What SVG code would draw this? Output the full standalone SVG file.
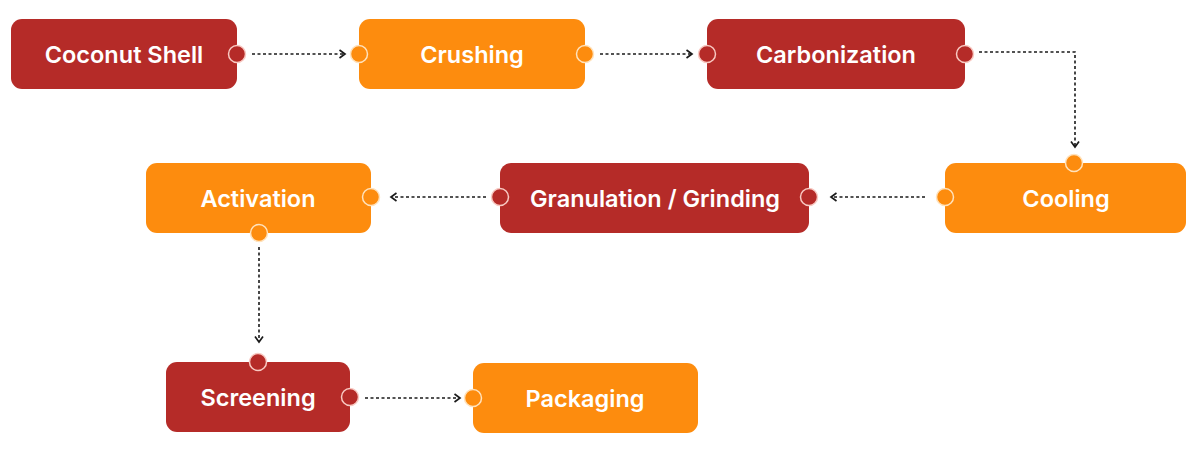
<svg xmlns="http://www.w3.org/2000/svg" width="1200" height="455" viewBox="0 0 1200 455">
<defs>
<style>
.red{fill:#B52B28}
.org{fill:#FD8C0E}
.pr{fill:#B52B28;stroke:#F8C9C2;stroke-width:1.5}
.po{fill:#FD8C0E;stroke:#FFE2BC;stroke-width:1.5}
.t{font-family:Inter,"Liberation Sans",sans-serif;font-weight:600;font-size:23.5px;fill:#FFFFFF;text-anchor:middle}
.c{fill:none;stroke:#1a1a1a;stroke-width:1.6;stroke-dasharray:3 2.5}
</style>
<marker id="ah" viewBox="0 0 10 10" refX="8" refY="5" markerWidth="10" markerHeight="10" markerUnits="userSpaceOnUse" orient="auto">
<path d="M2.5,1 L8,5 L2.5,9" fill="none" stroke="#1a1a1a" stroke-width="1.7"/>
</marker>
</defs>
<rect width="1200" height="455" fill="#FFFFFF"/>
<g id="connectors">
<path class="c" d="M252,54 H345" marker-end="url(#ah)"/>
<path class="c" d="M600,54 H692" marker-end="url(#ah)"/>
<path class="c" d="M979,52 H1075 V147" marker-end="url(#ah)"/>
<path class="c" d="M925,197 H831" marker-end="url(#ah)"/>
<path class="c" d="M486,197 H391" marker-end="url(#ah)"/>
<path class="c" d="M259,247 V342" marker-end="url(#ah)"/>
<path class="c" d="M365,398 H460" marker-end="url(#ah)"/>
</g>
<g id="coconut-shell">
<rect class="red" x="11" y="19" width="226" height="70" rx="11"/>
<text class="t" x="124" y="63">Coconut Shell</text>
<circle class="pr" cx="237" cy="54" r="8.5"/>
</g>
<g id="crushing">
<rect class="org" x="359" y="19" width="226" height="70" rx="11"/>
<text class="t" x="472" y="63">Crushing</text>
<circle class="po" cx="359" cy="54" r="8.5"/>
<circle class="po" cx="585" cy="54" r="8.5"/>
</g>
<g id="carbonization">
<rect class="red" x="707" y="19" width="258" height="70" rx="11"/>
<text class="t" x="836" y="63">Carbonization</text>
<circle class="pr" cx="707" cy="54" r="8.5"/>
<circle class="pr" cx="965" cy="54" r="8.5"/>
</g>
<g id="cooling">
<rect class="org" x="945" y="163" width="241" height="70" rx="11"/>
<text class="t" x="1066" y="207">Cooling</text>
<circle class="po" cx="1074" cy="163" r="8.5"/>
<circle class="po" cx="945" cy="197" r="8.5"/>
</g>
<g id="granulation-grinding">
<rect class="red" x="500" y="163" width="309" height="70" rx="11"/>
<text class="t" x="655" y="207">Granulation / Grinding</text>
<circle class="pr" cx="500" cy="197" r="8.5"/>
<circle class="pr" cx="809" cy="197" r="8.5"/>
</g>
<g id="activation">
<rect class="org" x="146" y="163" width="225" height="70" rx="11"/>
<text class="t" x="258" y="207">Activation</text>
<circle class="po" cx="371" cy="197" r="8.5"/>
<circle class="po" cx="259" cy="233" r="8.5"/>
</g>
<g id="screening">
<rect class="red" x="166" y="362" width="184" height="70" rx="11"/>
<text class="t" x="258" y="406">Screening</text>
<circle class="pr" cx="258" cy="362" r="8.5"/>
<circle class="pr" cx="350" cy="397" r="8.5"/>
</g>
<g id="packaging">
<rect class="org" x="473" y="363" width="225" height="70" rx="11"/>
<text class="t" x="585" y="407">Packaging</text>
<circle class="po" cx="473" cy="398" r="8.5"/>
</g>
</svg>
